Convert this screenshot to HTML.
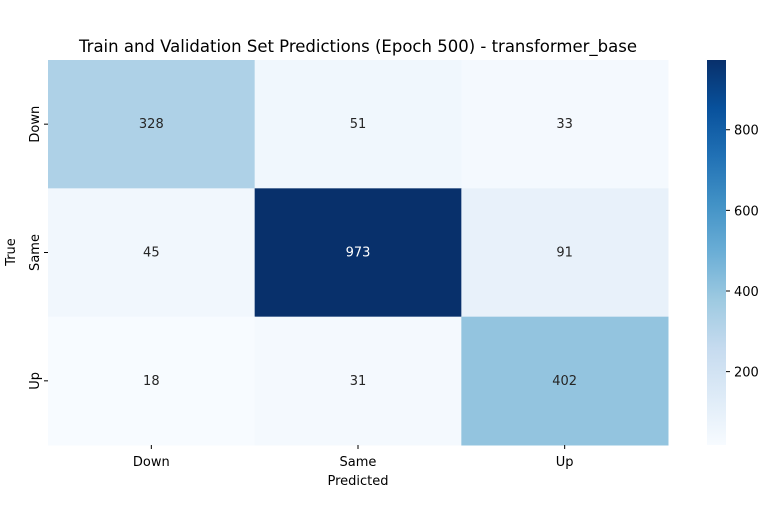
<!DOCTYPE html>
<html><head><meta charset="utf-8"><style>
body{margin:0;background:#fff;font-family:"Liberation Sans","DejaVu Sans",sans-serif;}
svg text{font-family:"DejaVu Sans","Liberation Sans",sans-serif;}
</style></head><body>
<svg id="chart" width="768" height="500" xmlns="http://www.w3.org/2000/svg">
<defs><linearGradient id="cbg" x1="0" y1="1" x2="0" y2="0"></linearGradient></defs>
<text x="358" y="52" text-anchor="middle" font-size="16.5" fill="#000">Train and Validation Set Predictions (Epoch 500) - transformer_base</text>
<g id="cells"></g>
<g id="axes"></g>
<rect x="707" y="60" width="19" height="385" fill="url(#cbg)"/>
<g id="cbticks"></g>
<text x="358" y="485" text-anchor="middle" font-size="13" fill="#000">Predicted</text>
<text transform="translate(15,252) rotate(-90)" text-anchor="middle" font-size="13" fill="#000">True</text>
</svg>
<script>
const categories = ["Down","Same","Up"];
const rowDown = [328,51,33];
const rowSame = [45,973,91];
const rowUp = [18,31,402];
const cbTicks = [200,400,600,800];
const matrix = [rowDown,rowSame,rowUp];
const all = matrix.flat();
const vmin = Math.min(...all), vmax = Math.max(...all);
const stops = ["#f7fbff","#deebf7","#c6dbef","#9ecae1","#6baed6","#4292c6","#2171b5","#08519c","#08306b"];
function hex(h){return [1,3,5].map(i=>parseInt(h.substr(i,2),16));}
function cmap(t){t=Math.max(0,Math.min(1,t));const p=t*(stops.length-1);const i=Math.min(Math.floor(p),stops.length-2);const f=p-i;const a=hex(stops[i]),b=hex(stops[i+1]);const c=a.map((v,k)=>Math.round(v+(b[k]-v)*f));return {s:`rgb(${c.join(',')})`,l:(0.299*c[0]+0.587*c[1]+0.114*c[2])};}
const X0=48,X1=668,Y0=60,Y1=445,n=categories.length;
const cw=(X1-X0)/n, ch=(Y1-Y0)/n;
const xPos=j=>X0+j*cw, yPos=i=>Y0+i*ch;
const NS="http://www.w3.org/2000/svg";
function mk(tag,attrs,parent){const e=document.createElementNS(NS,tag);for(const k in attrs)e.setAttribute(k,attrs[k]);parent.appendChild(e);return e;}
const cells=document.getElementById('cells');
matrix.forEach((row,i)=>row.forEach((v,j)=>{
  const c=cmap((v-vmin)/(vmax-vmin));
  const r=mk('rect',{x:xPos(j),y:yPos(i),width:cw+0.5,height:ch+0.5,fill:c.s},cells);
  
  
  const t=mk('text',{x:xPos(j)+cw/2,y:yPos(i)+ch/2+4,'text-anchor':'middle','font-size':'13',fill:c.l<128?'#fff':'#262626'},cells);
  t.textContent=v;
  
  
}));
const axes=document.getElementById('axes');
categories.forEach((c,j)=>{
  const x=xPos(j)+cw/2;
  const tk=mk('line',{x1:x,x2:x,y1:Y1,y2:Y1+4,stroke:'#000'},axes);
  
  
  const t=mk('text',{x:x,y:Y1+21,'text-anchor':'middle','font-size':'13',fill:'#000'},axes);
  t.textContent=c;
  
  
  const y=yPos(j)+ch/2;
  const tk2=mk('line',{x1:X0-4,x2:X0,y1:y,y2:y,stroke:'#000'},axes);
  
  
  const t2=mk('text',{transform:`translate(${X0-9},${y}) rotate(-90)`,'text-anchor':'middle','font-size':'13',fill:'#000'},axes);
  t2.textContent=c;
  
  
});
const g=document.getElementById('cbg');
stops.forEach((s,k)=>mk('stop',{offset:k/(stops.length-1),'stop-color':s},g));
const cbt=document.getElementById('cbticks');
const cbY=v=>Y1-(v-vmin)/(vmax-vmin)*(Y1-Y0);
cbTicks.forEach(v=>{
  const y=cbY(v);
  const l=mk('line',{x1:726,x2:730,y1:y,y2:y,stroke:'#000'},cbt);
  
  
  const t=mk('text',{x:734,y:y+5,'font-size':'13',fill:'#000'},cbt);
  t.textContent=v;
  
  
});
</script>
</body></html>
